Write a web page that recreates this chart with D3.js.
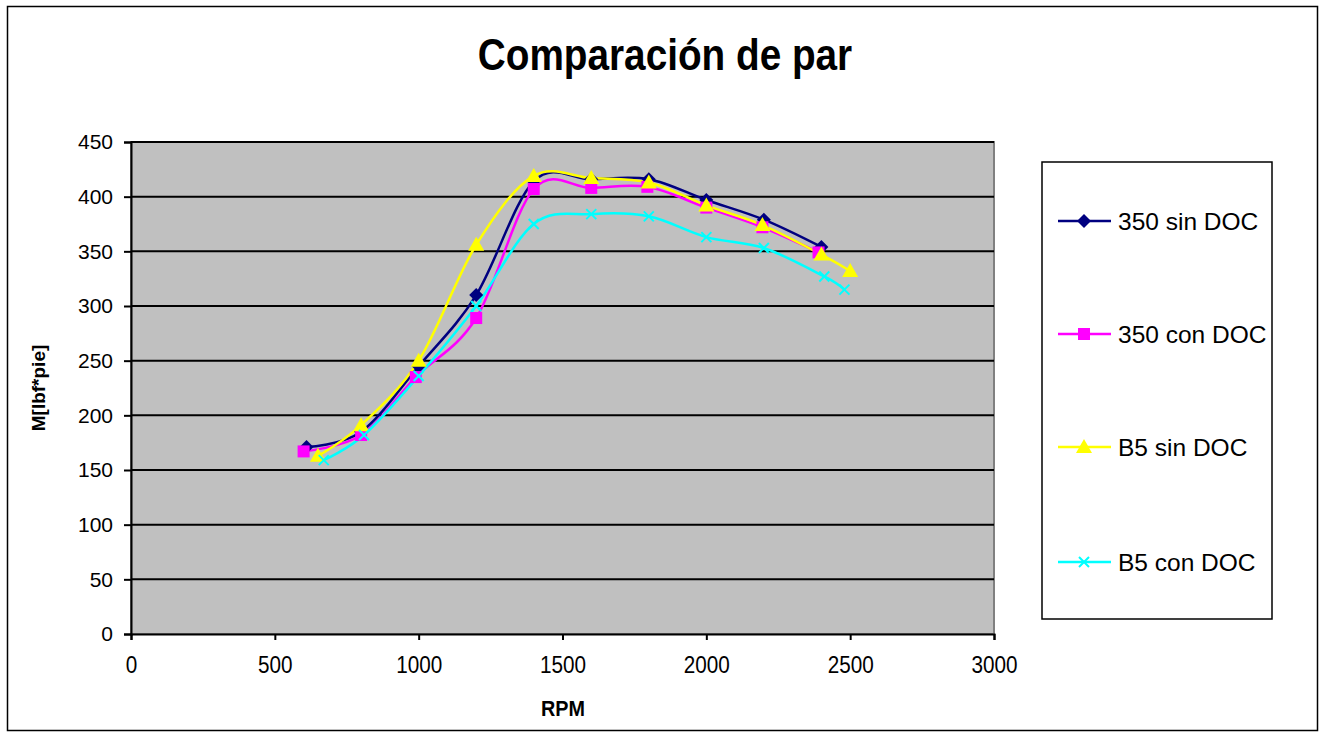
<!DOCTYPE html>
<html><head><meta charset="utf-8">
<script src="https://cdn.jsdelivr.net/npm/d3@7"></script>
<style>body{margin:0;background:#fff}svg{display:block}text{font-family:"Liberation Sans",Arial,sans-serif}</style>
</head><body>
<svg id="c" width="1325" height="738"></svg>
<script>
const seriesNames = ["350 sin DOC", "350 con DOC", "B5 sin DOC", "B5 con DOC"];
const rpm350sin = [610, 800, 1000, 1200, 1400, 1600, 1800, 2000, 2200, 2400];
const val350sin = [171, 185, 245, 310, 414, 416, 416, 397, 379, 354];
const rpm350con = [600, 800, 990, 1200, 1400, 1600, 1795, 2000, 2195, 2390];
const val350con = [167, 182, 235, 289, 407, 408, 409, 390, 372, 349];
const rpmB5sin = [650, 800, 1000, 1200, 1400, 1600, 1800, 2000, 2195, 2400, 2500];
const valB5sin = [163, 191, 250, 356, 419, 417, 413, 392, 374, 347, 332];
const rpmB5con = [670, 810, 1000, 1200, 1400, 1600, 1800, 2000, 2200, 2410, 2480];
const valB5con = [159, 182, 236, 300, 375, 384, 382, 363, 353, 327, 315];
const xTicks = [0, 500, 1000, 1500, 2000, 2500, 3000];
const yTicks = [0, 50, 100, 150, 200, 250, 300, 350, 400, 450];

const colors = ["#000080", "#FF00FF", "#FFFF00", "#00FFFF"];
const markers = ["diamond", "square", "triangle", "x"];
const series = [
  {name: seriesNames[0], xs: rpm350sin, ys: val350sin},
  {name: seriesNames[1], xs: rpm350con, ys: val350con},
  {name: seriesNames[2], xs: rpmB5sin, ys: valB5sin},
  {name: seriesNames[3], xs: rpmB5con, ys: valB5con}
];

const svg = d3.select("#c");
const L = 131, R = 994, T = 142, B = 634;
const x = d3.scaleLinear().domain([0, 3000]).range([L, R]);
const y = d3.scaleLinear().domain([0, 450]).range([B, T]);

// outer border
svg.append("rect").attr("x", 7.5).attr("y", 6.5).attr("width", 1310).attr("height", 724)
  .attr("fill", "#fff").attr("stroke", "#000").attr("stroke-width", 1.5);

// title
svg.append("text").attr("text-anchor", "middle")
  .attr("transform", "translate(665,70) scale(0.88,1)")
  .attr("font-size", 44).attr("font-weight", "bold").text("Comparación de par");

// plot area
svg.append("rect").attr("x", L).attr("y", T).attr("width", R - L).attr("height", B - T)
  .attr("fill", "#C0C0C0").attr("stroke", "#808080").attr("stroke-width", 2);

// gridlines
svg.append("g").selectAll("line").data(yTicks.filter(d => d > 0)).join("line")
  .attr("x1", L).attr("x2", R).attr("y1", d => y(d)).attr("y2", d => y(d))
  .attr("stroke", "#000").attr("stroke-width", 2);

// y axis
const ya = svg.append("g").attr("transform", `translate(${L},0)`)
  .call(d3.axisLeft(y).tickValues(yTicks).tickSize(7).tickPadding(11));
ya.select(".domain").attr("stroke", "#000").attr("stroke-width", 2);
ya.selectAll(".tick line").attr("stroke", "#000").attr("stroke-width", 2);
ya.selectAll(".tick text").attr("font-size", 21).attr("font-family", "Liberation Sans, Arial").attr("fill", "#000");

// x axis
const xa = svg.append("g").attr("transform", `translate(0,${B})`)
  .call(d3.axisBottom(x).tickValues(xTicks).tickSize(6).tickFormat(d3.format("d")).tickPadding(17));
xa.select(".domain").attr("stroke", "#000").attr("stroke-width", 2);
xa.selectAll(".tick line").attr("stroke", "#000").attr("stroke-width", 2);
xa.selectAll(".tick text").attr("font-size", 23).attr("font-family", "Liberation Sans, Arial").attr("fill", "#000")
  .attr("transform", "scale(0.9,1)");

// axis titles
svg.append("text").attr("text-anchor", "middle")
  .attr("transform", "translate(563,716) scale(0.9,1)")
  .attr("font-size", 22).attr("font-weight", "bold").text("RPM");
svg.append("text").attr("transform", "translate(45,388) rotate(-90)").attr("text-anchor", "middle")
  .attr("font-size", 19).attr("font-weight", "bold").text("M[lbf*pie]");

// marker drawing
function drawMarker(g, type, color) {
  if (type === "diamond") {
    g.append("path").attr("d", "M0,-7L7,0L0,7L-7,0Z").attr("fill", color);
  } else if (type === "square") {
    g.append("rect").attr("x", -6).attr("y", -6).attr("width", 12).attr("height", 12).attr("fill", color);
  } else if (type === "triangle") {
    g.append("path").attr("d", "M0,-8L8,6L-8,6Z").attr("fill", color);
  } else {
    g.append("path").attr("d", "M-5,-5L5,5M-5,5L5,-5").attr("stroke", color).attr("stroke-width", 2).attr("fill", "none");
  }
}

const line = d3.line().curve(d3.curveCardinal.tension(0));
const plot = svg.append("g");
series.forEach((s, i) => {
  const pts = s.xs.map((v, j) => [x(v), y(s.ys[j])]);
  plot.append("path").attr("d", line(pts)).attr("fill", "none")
    .attr("stroke", colors[i]).attr("stroke-width", 2.5);
});
series.forEach((s, i) => {
  s.xs.forEach((v, j) => {
    const g = plot.append("g").attr("transform", `translate(${x(v)},${y(s.ys[j])})`);
    drawMarker(g, markers[i], colors[i]);
  });
});

// legend
svg.append("rect").attr("x", 1042).attr("y", 162).attr("width", 230).attr("height", 457)
  .attr("fill", "#fff").attr("stroke", "#000").attr("stroke-width", 1.5);
const legY = [221, 334, 447, 562];
series.forEach((s, i) => {
  const g = svg.append("g").attr("transform", `translate(0,${legY[i]})`);
  g.append("line").attr("x1", 1058).attr("x2", 1111).attr("y1", 0).attr("y2", 0)
    .attr("stroke", colors[i]).attr("stroke-width", 2.5);
  const m = g.append("g").attr("transform", "translate(1084,0)");
  drawMarker(m, markers[i], colors[i]);
  g.append("text").attr("x", 1118).attr("y", 9).attr("font-size", 24.5).text(s.name);
});
</script>
</body></html>
